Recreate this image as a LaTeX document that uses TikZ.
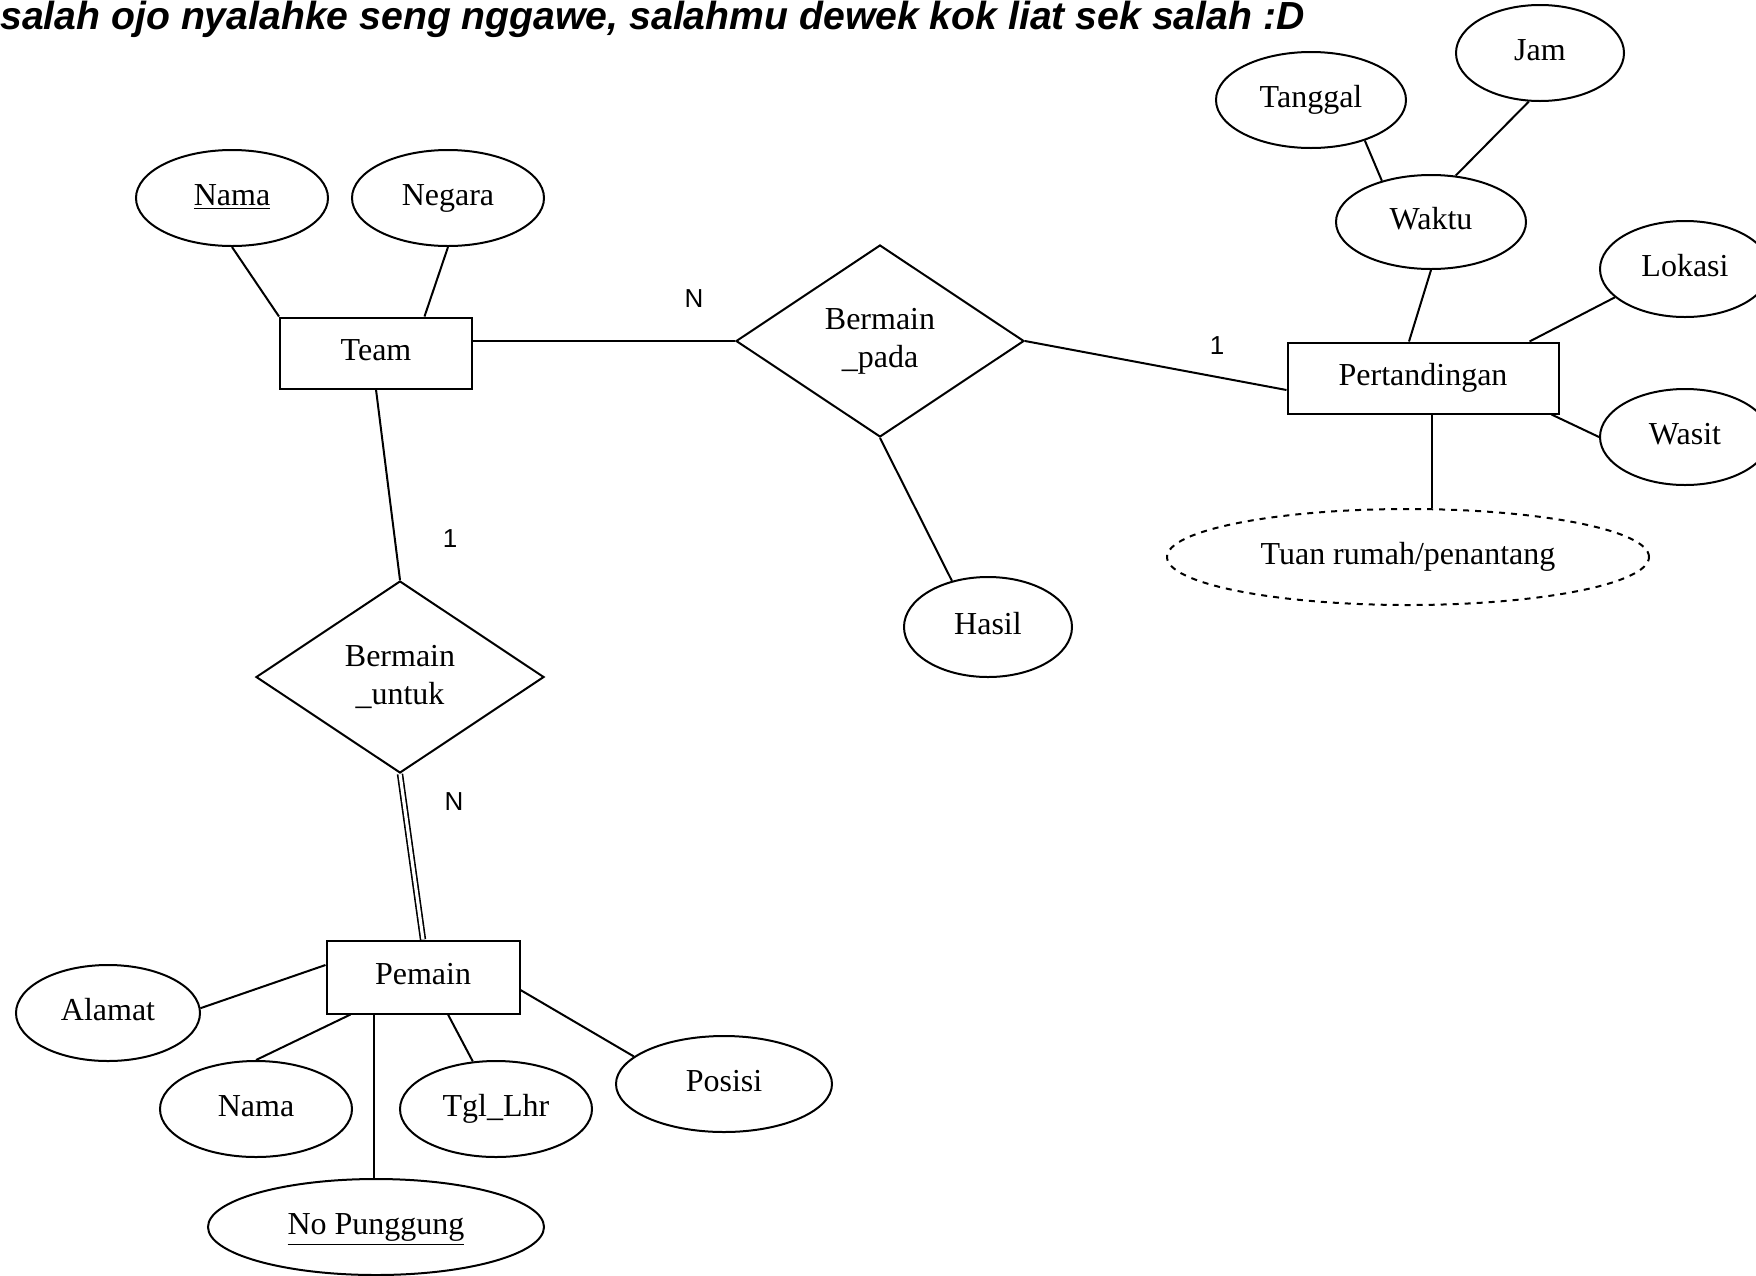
\documentclass[tikz,border=0pt]{standalone}
\usepackage{fontspec}
\setmainfont{Liberation Serif}
\newfontfamily\labelfont{Liberation Sans}
\newfontfamily\titlefont{Liberation Sans}
\usetikzlibrary{shapes.geometric,calc}
\begin{document}
\begin{tikzpicture}[x=0.5pt,y=-0.5pt,
  every node/.style={font=\fontsize{16}{19}\selectfont},
  ent/.style={draw, rectangle, inner sep=0pt, line width=1pt, text height=11pt, text depth=3.8pt},
  att/.style={draw, ellipse, inner sep=0pt, line width=1pt, minimum height=48pt, text height=11pt, text depth=3.8pt},
  rel/.style={draw, diamond, inner sep=0pt, line width=1pt, minimum width=144pt, minimum height=96pt, align=center},
  card/.style={font=\labelfont\fontsize{13}{15}\selectfont, inner sep=0pt},
  conn/.style={line width=1pt}]
\useasboundingbox (0,0) rectangle (1756,1275);

% title
\node[anchor=base west, inner sep=0pt] (title) at (0,29)
  {\resizebox{652pt}{!}{\titlefont\bfseries\itshape\fontsize{16}{19}\selectfont salah ojo nyalahke seng nggawe, salahmu dewek kok liat sek salah :D}};

% entities
\node[ent, minimum width=96pt, minimum height=35.5pt] (team) at (376,353) {Team};
\node[ent, minimum width=135.5pt, minimum height=35.5pt] (pert) at (1423,378) {Pertandingan};
\node[ent, minimum width=96.5pt, minimum height=36.5pt] (pemain) at (423,977) {Pemain};

% relationships
\node[rel] (bp) at (880,341) {Bermain\\\_pada};
\node[rel] (bu) at (400,677) {Bermain\\\_untuk};

% attributes
\node[att, minimum width=96pt] (nama1) at (232,198) {\underline{Nama}};
\node[att, minimum width=96pt] (negara) at (448,198) {Negara};
\node[att, minimum width=95pt] (tanggal) at (1311,100) {Tanggal};
\node[att, minimum width=84pt] (jam) at (1540,53) {Jam};
\node[att, minimum width=95pt, minimum height=47pt] (waktu) at (1431,222) {Waktu};
\node[att, minimum width=85pt] (lokasi) at (1685,269) {Lokasi};
\node[att, minimum width=85pt] (wasit) at (1685,437) {Wasit};
\node[att, dashed, minimum width=241pt] (tuan) at (1408,557) {Tuan rumah/penantang};
\node[att, minimum width=84pt, minimum height=50pt] (hasil) at (988,627) {Hasil};
\node[att, minimum width=92pt] (alamat) at (108,1013) {Alamat};
\node[att, minimum width=96pt] (nama2) at (256,1109) {Nama};
\node[att, minimum width=96pt] (tgl) at (496,1109) {Tgl\_Lhr};
\node[att, minimum width=108pt] (posisi) at (724,1084) {Posisi};
\node[att, minimum width=168pt] (punggung) at (376,1227) {\underline{No Punggung}};

% cardinality labels
\node[card] (cN1) at (694,299) {N};
\node[card] (c11) at (1217,346) {1};
\node[card] (c12) at (450,539) {1};
\node[card] (cN2) at (454,802) {N};

% connectors: Team
\draw[conn] (nama1.south) -- (team.north west);
\draw[conn] (negara.south) -- ($(team.north)!0.5!(team.north east)$);
\draw[conn] (team.east |- bp.west) -- (bp.west);
\draw[conn] (team.south) -- (bu.north);

% Bermain_pada
\draw[conn] (bp.east) -- ($(pert.west)+(0,12)$);
\draw[conn] (bp.south) -- (hasil.128);

% Pertandingan
\draw[conn] (waktu.south) -- ($(pert.north)+(-14,0)$);
\draw[conn] (tanggal.-37) -- (waktu.140);
\draw[conn] (jam.-103) -- (waktu.62);
\draw[conn] (lokasi.202) -- ($(pert.north east)+(-30,0)$);
\draw[conn] ($(pert.south east)+(-8,0)$) -- (wasit.west);
\coordinate (pertb) at ($(pert.south)+(9,0)$);
\draw[conn] (pertb) -- (pertb |- tuan.north);

% Bermain_untuk -> Pemain (total participation)
\draw[line width=0.8pt, double, double distance=1.6pt] (bu.south) -- (pemain.north);

% Pemain
\draw[conn] (alamat.3) -- ($(pemain.west)+(0,-12)$);
\draw[conn] ($(pemain.south west)+(25,0)$) -- (nama2.north);
\coordinate (pemb) at ($(pemain.south west)+(48,0)$);
\draw[conn] (pemb) -- (pemb |- punggung.north);
\draw[conn] ($(pemain.south)+(25,0)$) -- (tgl.116);
\draw[conn] ($(pemain.east)+(0,13)$) -- (posisi.163);
\end{tikzpicture}
\end{document}
